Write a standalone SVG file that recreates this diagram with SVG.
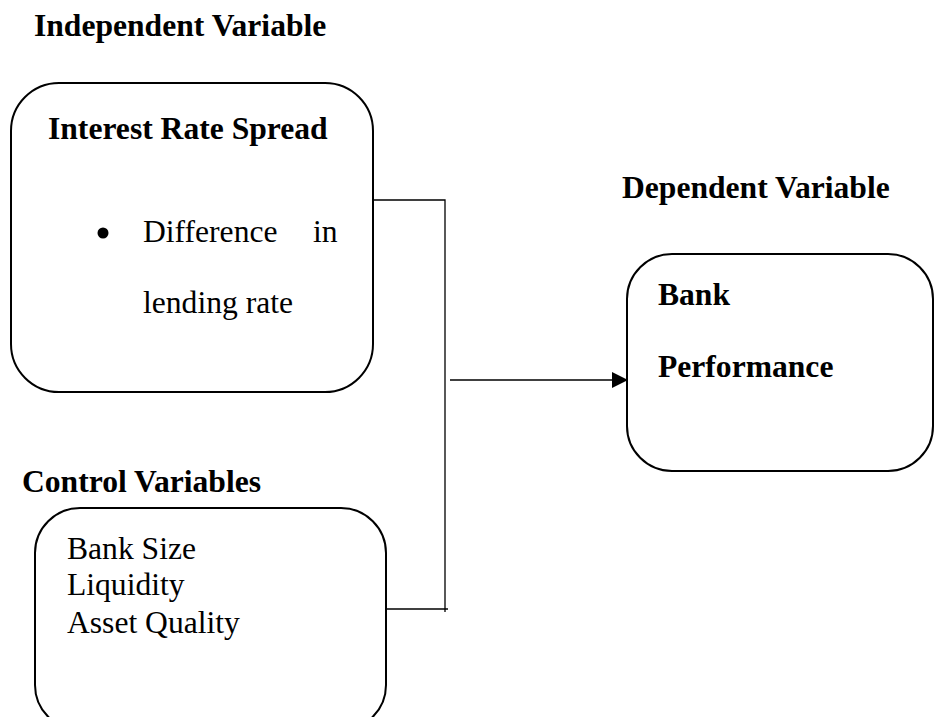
<svg xmlns="http://www.w3.org/2000/svg" width="934" height="717" viewBox="0 0 934 717">
<style>
.box{fill:#fff;stroke:#000;stroke-width:2}
.b{font-family:"Liberation Serif","Times New Roman",serif;font-weight:bold;font-size:31.6px;fill:#000}
.r{font-family:"Liberation Serif","Times New Roman",serif;font-size:31.6px;fill:#000}
.c{fill:none;stroke:#000;stroke-width:1.3}
</style>
<defs>
<marker id="arr" markerWidth="16" markerHeight="16" refX="15" refY="8" orient="auto" markerUnits="userSpaceOnUse">
<path d="M0,0 L16,8 L0,16 Z" fill="#000"/>
</marker>
</defs>
<rect width="934" height="717" fill="#fff"/>
<text class="b" x="34" y="36">Independent Variable</text>
<text class="b" x="622" y="198">Dependent Variable</text>
<text class="b" x="22" y="492">Control Variables</text>
<g id="irs">
<rect class="box" x="11" y="83" width="362" height="309" rx="48" ry="48"/>
<text class="b" x="48" y="139">Interest Rate Spread</text>
<circle cx="103" cy="233" r="5.5" fill="#000"/>
<text class="r" x="143" y="242">Difference</text>
<text class="r" x="313" y="242">in</text>
<text class="r" x="143" y="313">lending rate</text>
</g>
<g id="control">
<rect class="box" x="35" y="508" width="351" height="222" rx="45" ry="45"/>
<text class="r" x="67" y="559">Bank Size</text>
<text class="r" x="67" y="595">Liquidity</text>
<text class="r" x="67" y="633">Asset Quality</text>
</g>
<g id="bank">
<rect class="box" x="627" y="254" width="306" height="217" rx="45" ry="45"/>
<text class="b" x="658" y="305">Bank</text>
<text class="b" x="658" y="377">Performance</text>
</g>
<g id="connectors">
<polyline class="c" points="374,200 445,200 445,612"/>
<line class="c" x1="386" y1="609" x2="448" y2="609"/>
<line class="c" x1="450" y1="380" x2="627" y2="380" marker-end="url(#arr)"/>
</g>
</svg>
